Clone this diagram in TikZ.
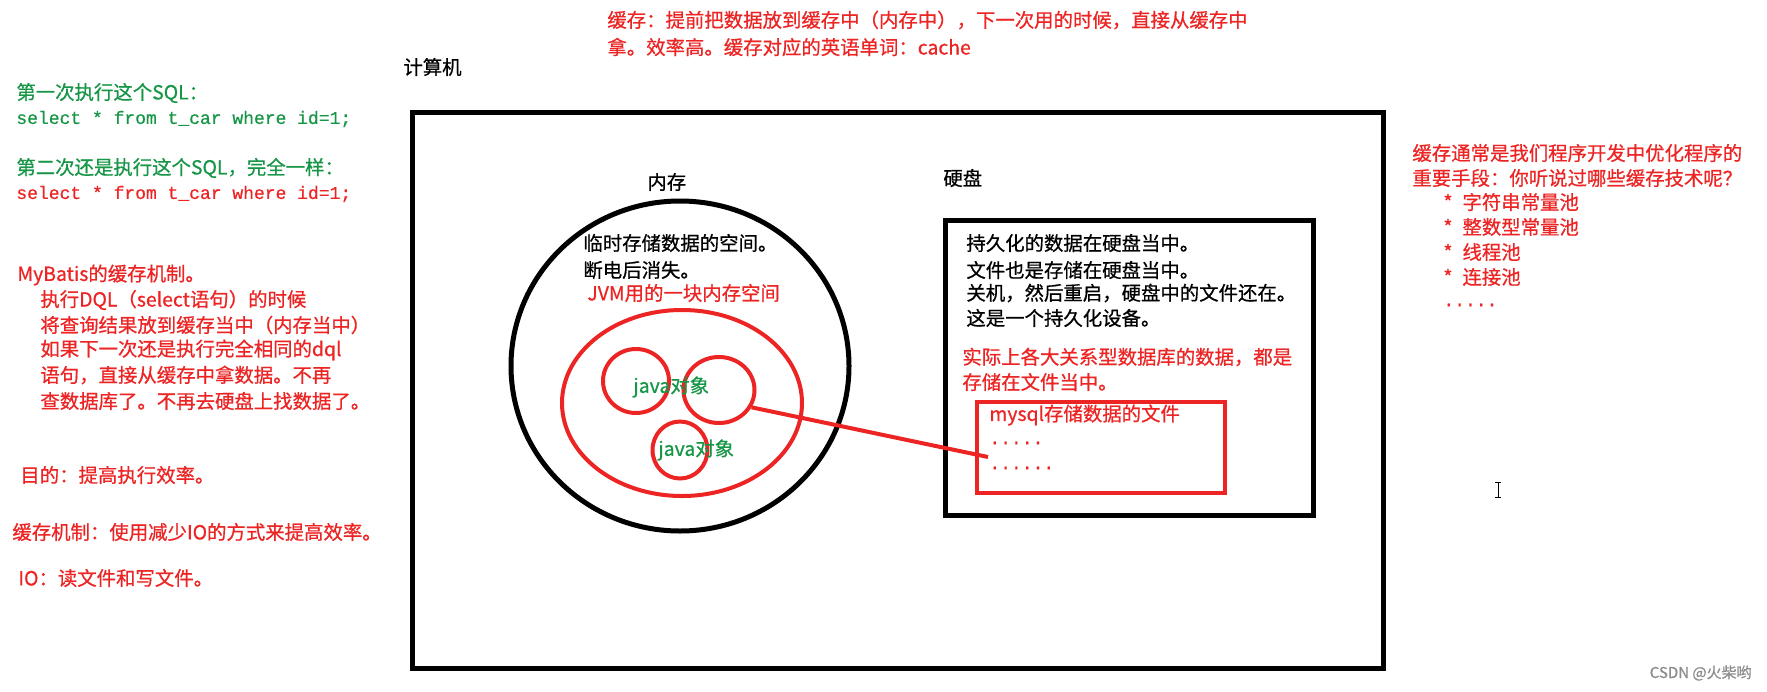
\documentclass[tikz,border=0pt]{standalone}
\usepackage{fontspec}
\setmainfont{Noto Sans CJK SC}[FakeBold=0.7]
\setmonofont{Liberation Mono}[FakeBold=0.7]
\usetikzlibrary{shapes.geometric}
\definecolor{cachered}{RGB}{236,36,36}
\definecolor{cachegreen}{RGB}{22,150,70}
\newcommand{\cnsize}{\fontsize{9.7}{12}\selectfont}
\newcommand{\sqlsize}{\fontsize{9}{11}\selectfont\ttfamily}

\begin{document}
\begin{tikzpicture}[
    x=0.5pt, y=-0.5pt,
    every node/.style={inner sep=0pt},
    note/.style={anchor=west, font=\cnsize, text=black},
    rednote/.style={note, text=cachered},
    greennote/.style={note, text=cachegreen},
    sqlnote/.style={anchor=west, font=\sqlsize},
    blackshape/.style={draw=black, line width=2.5pt},
    redshape/.style={draw=cachered, line width=2pt}
]
\useasboundingbox (0,0) rectangle (1767,691);
%
\node[blackshape, rectangle, minimum width=485.5pt, minimum height=278pt] (computer) at (897.5,390) {};
\node[blackshape, ellipse, minimum width=169pt, minimum height=165pt] (memory) at (680,366) {};
\node[redshape, ellipse, minimum width=120pt, minimum height=93pt] (jvm) at (682,403) {};
\node[redshape, ellipse, minimum width=33pt, minimum height=32pt] (objone) at (636,381) {};
\node[redshape, ellipse, minimum width=35.5pt, minimum height=33pt] (objtwo) at (719,390) {};
\node[redshape, ellipse, minimum width=27.5pt, minimum height=28.5pt] (objthree) at (680,450) {};
\node[blackshape, rectangle, minimum width=184pt, minimum height=147.5pt] (disk) at (1129,367.5) {};
\node[redshape, rectangle, minimum width=124pt, minimum height=45.5pt] (mysqlfile) at (1101,447.5) {};
\coordinate (linkend) at (988,457);
\draw[redshape] (objtwo.-28) -- (linkend);

% top and left notes
\node[rednote] (cacheone) at (607,20) {缓存：提前把数据放到缓存中（内存中），下一次用的时候，直接从缓存中};
\node[rednote] (cachetwo) at (607,47) {拿。效率高。缓存对应的英语单词：cache};
\node[note] (computerlabel) at (403,67) {计算机};
\node[greennote] (firstrun) at (16,93) {第一次执行这个SQL：};
\node[sqlnote, text=cachegreen] (firstsql) at (16,119) {select * from t\_car where id=1;};
\node[greennote] (secondrun) at (16,168) {第二次还是执行这个SQL，完全一样：};
\node[sqlnote, text=cachered] (secondsql) at (16,194) {select * from t\_car where id=1;};
\node[rednote] (mybatis) at (17,275) {MyBatis的缓存机制。};
\node[rednote] (mbone) at (40,300) {执行DQL（select语句）的时候};
\node[rednote] (mbtwo) at (40,325) {将查询结果放到缓存当中（内存当中）};
\node[rednote] (mbthree) at (40,350) {如果下一次还是执行完全相同的dql};
\node[rednote] (mbfour) at (40,375) {语句，直接从缓存中拿数据。不再};
\node[rednote] (mbfive) at (40,401) {查数据库了。不再去硬盘上找数据了。};
\node[rednote] (purpose) at (20,475) {目的：提高执行效率。};
\node[rednote] (mechanism) at (12,532) {缓存机制：使用减少IO的方式来提高效率。};
\node[rednote] (io) at (18,578) {IO：读文件和写文件。};

% memory
\node[note] (memlabel) at (647,182) {内存};
\node[note] (memone) at (583,243) {临时存储数据的空间。};
\node[note] (memtwo) at (583,270) {断电后消失。};
\node[rednote] (jvmlabel) at (587,293) {JVM用的一块内存空间};
\node[greennote] (objlabelone) at (633,387) {java对象};
\node[greennote] (objlabeltwo) at (658,450) {java对象};

% disk
\node[note] (disklabel) at (943,178) {硬盘};
\node[note] (diskone) at (966,243) {持久化的数据在硬盘当中。};
\node[note] (disktwo) at (966,270) {文件也是存储在硬盘当中。};
\node[note] (diskthree) at (966,293) {关机，然后重启，硬盘中的文件还在。};
\node[note] (diskfour) at (966,318) {这是一个持久化设备。};
\node[rednote] (dbone) at (962,357) {实际上各大关系型数据库的数据，都是};
\node[rednote] (dbtwo) at (962,382) {存储在文件当中。};
\node[rednote] (mysqllabel) at (989,415) {mysql存储数据的文件};
\node[sqlnote, text=cachered] (dotsone) at (989,443) {.....};
\node[sqlnote, text=cachered] (dotstwo) at (989,468) {......};

% right notes
\node[rednote] (usageone) at (1412,153) {缓存通常是我们程序开发中优化程序的};
\node[rednote] (usagetwo) at (1412,178) {重要手段：你听说过哪些缓存技术呢？};
\node[rednote] (poolone) at (1443,202) {*\hspace{5pt}字符串常量池};
\node[rednote] (pooltwo) at (1443,227) {*\hspace{5pt}整数型常量池};
\node[rednote] (poolthree) at (1443,252) {*\hspace{5pt}线程池};
\node[rednote] (poolfour) at (1443,277) {*\hspace{5pt}连接池};
\node[sqlnote, text=cachered] (poolmore) at (1443,305) {.....};

\draw[line width=0.5pt] (1495,482) -- (1501,482) (1498,482) -- (1498,497) (1495,497) -- (1501,497);
\node[anchor=east, font=\fontsize{7.5}{9}\selectfont, text=black!45] (watermark) at (1752,673) {CSDN @火柴哟};
\end{tikzpicture}
\end{document}
